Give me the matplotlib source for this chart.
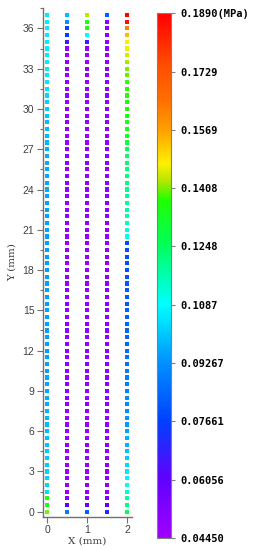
import numpy as np
import matplotlib
matplotlib.use("Agg")
import matplotlib.pyplot as plt
from matplotlib.colors import LinearSegmentedColormap

# ---------------- data ----------------
x_positions = [0.0, 0.5, 1.0, 1.5, 2.0]
y_positions = [37.0, 36.5, 36.0, 35.5, 35.0, 34.5, 34.0, 33.5, 33.0, 32.5,
               32.0, 31.5, 31.0, 30.5, 30.0, 29.5, 29.0, 28.5, 28.0, 27.5,
               27.0, 26.5, 26.0, 25.5, 25.0, 24.5, 24.0, 23.5, 23.0, 22.5,
               22.0, 21.5, 21.0, 20.5, 20.0, 19.5, 19.0, 18.5, 18.0, 17.5,
               17.0, 16.5, 16.0, 15.5, 15.0, 14.5, 14.0, 13.5, 13.0, 12.5,
               12.0, 11.5, 11.0, 10.5, 10.0, 9.5, 9.0, 8.5, 8.0, 7.5,
               7.0, 6.5, 6.0, 5.5, 5.0, 4.5, 4.0, 3.5, 3.0, 2.5,
               2.0, 1.5, 1.0, 0.5, 0.0]

# stress (MPa), column by column, listed from y=37 down to y=0
stress_x0 = [0.1060, 0.1060, 0.1062, 0.1062, 0.1060, 0.1058, 0.1058, 0.1055, 0.1055, 0.1052,
             0.1050, 0.1045, 0.1035, 0.1025, 0.1015, 0.1005, 0.0995, 0.0988, 0.0982, 0.0978,
             0.0975, 0.0972, 0.0970, 0.0968, 0.0966, 0.0964, 0.0962, 0.0960, 0.0958, 0.0957,
             0.0956, 0.0955, 0.0954, 0.0953, 0.0952, 0.0951, 0.0950, 0.0950, 0.0949, 0.0949,
             0.0948, 0.0948, 0.0948, 0.0948, 0.0948, 0.0949, 0.0949, 0.0950, 0.0950, 0.0951,
             0.0952, 0.0953, 0.0955, 0.0957, 0.0960, 0.0962, 0.0965, 0.0968, 0.0972, 0.0976,
             0.0980, 0.0985, 0.0990, 0.0995, 0.1000, 0.1005, 0.1010, 0.1015, 0.1020, 0.1025,
             0.1030, 0.1035, 0.1340, 0.1335, 0.1410]

stress_x05 = [0.0995, 0.0925, 0.0780, 0.0745, 0.0670, 0.0475, 0.0475, 0.0475, 0.0475, 0.0475,
              0.0475, 0.0475, 0.0475, 0.0475, 0.0475, 0.0475, 0.0475, 0.0475, 0.0475, 0.0475,
              0.0475, 0.0475, 0.0475, 0.0475, 0.0475, 0.0475, 0.0475, 0.0475, 0.0475, 0.0475,
              0.0475, 0.0475, 0.0475, 0.0475, 0.0475, 0.0475, 0.0475, 0.0475, 0.0475, 0.0475,
              0.0475, 0.0475, 0.0475, 0.0475, 0.0475, 0.0475, 0.0475, 0.0475, 0.0475, 0.0475,
              0.0475, 0.0475, 0.0475, 0.0475, 0.0475, 0.0475, 0.0475, 0.0475, 0.0475, 0.0475,
              0.0475, 0.0475, 0.0475, 0.0475, 0.0475, 0.0475, 0.0475, 0.0475, 0.0475, 0.0475,
              0.0475, 0.0475, 0.0490, 0.0630, 0.0890]

stress_x1 = [0.1435, 0.1365, 0.1360, 0.1087, 0.0680, 0.0475, 0.0475, 0.0475, 0.0475, 0.0475,
             0.0475, 0.0475, 0.0475, 0.0475, 0.0475, 0.0475, 0.0475, 0.0475, 0.0475, 0.0475,
             0.0475, 0.0475, 0.0475, 0.0475, 0.0475, 0.0475, 0.0475, 0.0475, 0.0475, 0.0475,
             0.0475, 0.0475, 0.0475, 0.0475, 0.0475, 0.0475, 0.0475, 0.0475, 0.0475, 0.0475,
             0.0475, 0.0475, 0.0475, 0.0475, 0.0475, 0.0475, 0.0475, 0.0475, 0.0475, 0.0475,
             0.0475, 0.0475, 0.0475, 0.0475, 0.0475, 0.0475, 0.0475, 0.0475, 0.0475, 0.0475,
             0.0475, 0.0475, 0.0475, 0.0475, 0.0475, 0.0475, 0.0475, 0.0475, 0.0475, 0.0475,
             0.0475, 0.0475, 0.0490, 0.0575, 0.0830]

stress_x15 = [0.0830, 0.0480, 0.0480, 0.0480, 0.0480, 0.0480, 0.0480, 0.0480, 0.0480, 0.0480,
              0.0480, 0.0480, 0.0480, 0.0480, 0.0480, 0.0480, 0.0480, 0.0480, 0.0480, 0.0480,
              0.0480, 0.0480, 0.0480, 0.0480, 0.0480, 0.0480, 0.0480, 0.0480, 0.0480, 0.0480,
              0.0480, 0.0480, 0.0480, 0.0480, 0.0480, 0.0480, 0.0480, 0.0480, 0.0480, 0.0480,
              0.0480, 0.0480, 0.0480, 0.0480, 0.0480, 0.0480, 0.0480, 0.0480, 0.0480, 0.0480,
              0.0480, 0.0480, 0.0480, 0.0480, 0.0480, 0.0480, 0.0480, 0.0480, 0.0480, 0.0480,
              0.0480, 0.0480, 0.0480, 0.0480, 0.0480, 0.0480, 0.0480, 0.0480, 0.0480, 0.0480,
              0.0480, 0.0480, 0.0520, 0.0600, 0.0700]

stress_x2 = [0.1890, 0.1860, 0.1615, 0.1536, 0.1480, 0.1470, 0.1445, 0.1425, 0.1410, 0.1398,
             0.1385, 0.1378, 0.1372, 0.1365, 0.1360, 0.1355, 0.1350, 0.1340, 0.1325, 0.1300,
             0.1260, 0.1235, 0.1225, 0.1220, 0.1215, 0.1205, 0.1200, 0.1195, 0.1190, 0.1180,
             0.1170, 0.1150, 0.1120, 0.1095, 0.0785, 0.0790, 0.0795, 0.0800, 0.0805, 0.0810,
             0.0812, 0.0815, 0.0818, 0.0822, 0.0826, 0.0830, 0.0835, 0.0840, 0.0845, 0.0850,
             0.0858, 0.0865, 0.0872, 0.0880, 0.0887, 0.0895, 0.0902, 0.0910, 0.0918, 0.0926,
             0.0935, 0.0945, 0.0955, 0.0968, 0.0980, 0.0995, 0.1012, 0.1030, 0.1050, 0.1075,
             0.1105, 0.1140, 0.1180, 0.1215, 0.1265]

columns = [stress_x0, stress_x05, stress_x1, stress_x15, stress_x2]

v_min, v_max = 0.0445, 0.1890
cbar_ticks = [0.04450, 0.06056, 0.07661, 0.09267, 0.1087, 0.1248, 0.1408, 0.1569, 0.1729, 0.1890]
cbar_labels = ["0.04450", "0.06056", "0.07661", "0.09267", "0.1087", "0.1248",
               "0.1408", "0.1569", "0.1729", "0.1890(MPa)"]
y_ticks = [0, 3, 6, 9, 12, 15, 18, 21, 24, 27, 30, 33, 36]
x_ticks = [0, 1, 2]

# colormap (purple -> blue -> cyan -> green -> yellow -> red)
cmap_nodes = [(0.000, "#A000FF"), (0.111, "#6000FF"), (0.222, "#0040FF"),
              (0.333, "#0090FF"), (0.444, "#00FFFF"), (0.555, "#00FF60"),
              (0.645, "#20FF00"), (0.680, "#B0E800"), (0.715, "#FFF000"),
              (0.777, "#FFA000"), (0.834, "#FF7000"), (0.897, "#FF5000"),
              (1.000, "#FF0000")]
cmap = LinearSegmentedColormap.from_list("stress", cmap_nodes)

# ---------------- figure ----------------
fig = plt.figure(figsize=(2.61, 5.50), dpi=100)
ax = fig.add_axes([0.1636, 0.0605, 0.3418, 0.9245])

sc = None
for xv, col in zip(x_positions, columns):
    sc = ax.scatter([xv] * len(col), y_positions[:len(col)], c=col, cmap=cmap,
                    vmin=v_min, vmax=v_max, marker="s", s=9, linewidths=0)

ax.set_xlim(-0.11, 2.12)
ax.set_ylim(-0.37, 37.23)
ax.set_yticks(y_ticks)
ax.set_yticks([t + 1.5 for t in y_ticks], minor=True)
ax.set_xticks(x_ticks)
for side in ("top", "right"):
    ax.spines[side].set_visible(False)
for side in ("left", "bottom"):
    ax.spines[side].set_color("#707070")
    ax.spines[side].set_linewidth(1.0)
ax.tick_params(which="major", direction="out", length=4, width=0.8, color="#707070",
               labelsize=7.5, labelcolor="#404040", pad=2)
ax.tick_params(which="minor", direction="out", length=2, width=0.8, color="#707070")
for lab in ax.get_xticklabels() + ax.get_yticklabels():
    lab.set_family("Liberation Sans")

ax.set_xlabel("X (mm)", family="DejaVu Serif", fontsize=7.5, color="#404040", labelpad=1)
ax.set_ylabel("Y (mm)", family="DejaVu Serif", fontsize=7.5, color="#404040", labelpad=4)

cax = fig.add_axes([0.6015, 0.0218, 0.0536, 0.9545])
cb = fig.colorbar(sc, cax=cax)
cb.set_ticks(cbar_ticks)
cb.set_ticklabels(cbar_labels)
cb.outline.set_edgecolor("#808080")
cb.outline.set_linewidth(0.8)
cax.tick_params(direction="out", length=3, width=0.8, color="#808080", pad=4,
                labelsize=7.5)
for lab in cax.get_yticklabels():
    lab.set_family("DejaVu Sans Mono")
    lab.set_fontweight("bold")

fig.savefig("out.png", dpi=100)
